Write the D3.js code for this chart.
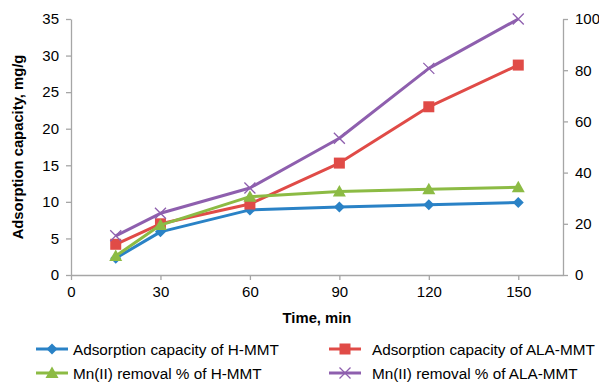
<!DOCTYPE html>
<html>
<head>
<meta charset="utf-8">
<script src="https://cdn.jsdelivr.net/npm/d3@7/dist/d3.min.js"></script>
<style>
  body { margin: 0; background: #fff; }
  svg { font-family: "Liberation Sans", Arial, sans-serif; }
</style>
</head>
<body>
<svg id="chart" width="599" height="382"></svg>
<script>
// Sampling times (min)
const times = [15, 30, 60, 90, 120, 150];
// Adsorption capacity, mg/g (left axis)
const capHMMT = [2.3, 5.9, 8.9, 9.3, 9.6, 9.9];
const capALAMMT = [4.2, 7.0, 9.7, 15.3, 23.0, 28.7];
// Mn(II) removal, % (right axis)
const remHMMT = [7.4, 19.5, 30.6, 32.6, 33.5, 34.3];
const remALAMMT = [15.3, 24.1, 34.0, 53.4, 80.7, 100];

const xTicks = [0, 30, 60, 90, 120, 150];
const yLeftTicks = [0, 5, 10, 15, 20, 25, 30, 35];
const yRightTicks = [0, 20, 40, 60, 80, 100];

const seriesNames = [
  "Adsorption capacity of H-MMT",
  "Adsorption capacity of ALA-MMT",
  "Mn(II) removal % of H-MMT",
  "Mn(II) removal % of ALA-MMT"
];

const margin = { left: 71, right: 36, top: 19, bottom: 107 };
const W = 599, H = 382;
const svg = d3.select("#chart");

const x = d3.scaleLinear().domain([0, 165]).range([margin.left, W - margin.right]);
const yL = d3.scaleLinear().domain([0, 35]).range([H - margin.bottom, margin.top]);
const yR = d3.scaleLinear().domain([0, 100]).range([H - margin.bottom, margin.top]);

const axisColor = "#a6a6a6";
const fontSize = 15;

function styleAxis(g) {
  g.selectAll("path").attr("stroke", axisColor).attr("stroke-width", 1.3);
  g.selectAll("line").attr("stroke", axisColor).attr("stroke-width", 1.3);
  g.selectAll("text").attr("fill", "#000").attr("font-size", fontSize);
}

svg.append("g")
  .attr("transform", `translate(0,${H - margin.bottom})`)
  .call(d3.axisBottom(x).tickValues(xTicks).tickSize(5).tickSizeOuter(0).tickPadding(6))
  .call(styleAxis);

svg.append("g")
  .attr("transform", `translate(${margin.left},0)`)
  .call(d3.axisLeft(yL).tickValues(yLeftTicks).tickSize(5).tickSizeOuter(0).tickPadding(7))
  .call(styleAxis);

svg.append("g")
  .attr("transform", `translate(${W - margin.right},0)`)
  .call(d3.axisRight(yR).tickValues(yRightTicks).tickSize(5).tickSizeOuter(0).tickPadding(7))
  .call(styleAxis);

// Axis titles
svg.append("text")
  .attr("transform", `translate(23,${(margin.top + H - margin.bottom) / 2}) rotate(-90)`)
  .attr("text-anchor", "middle")
  .attr("font-size", 14.8)
  .attr("font-weight", "bold")
  .text("Adsorption capacity, mg/g");

svg.append("text")
  .attr("x", 317)
  .attr("y", 323)
  .attr("text-anchor", "middle")
  .attr("font-size", 14.8)
  .attr("font-weight", "bold")
  .text("Time, min");

const series = [
  { name: seriesNames[0], values: capHMMT, y: yL, color: "#2a82c6", marker: "diamond" },
  { name: seriesNames[1], values: capALAMMT, y: yL, color: "#e04b47", marker: "square" },
  { name: seriesNames[2], values: remHMMT, y: yR, color: "#8cbb44", marker: "triangle" },
  { name: seriesNames[3], values: remALAMMT, y: yR, color: "#8e5fae", marker: "cross" }
];

function drawMarker(g, type, cx, cy, color) {
  if (type === "diamond") {
    g.append("path")
      .attr("d", `M${cx},${cy - 5.5}L${cx + 5.5},${cy}L${cx},${cy + 5.5}L${cx - 5.5},${cy}Z`)
      .attr("fill", color);
  } else if (type === "square") {
    g.append("rect")
      .attr("x", cx - 5.5).attr("y", cy - 5.5)
      .attr("width", 11).attr("height", 11)
      .attr("fill", color);
  } else if (type === "triangle") {
    g.append("path")
      .attr("d", `M${cx},${cy - 6.5}L${cx + 6.5},${cy + 5}L${cx - 6.5},${cy + 5}Z`)
      .attr("fill", color);
  } else if (type === "cross") {
    g.append("path")
      .attr("d", `M${cx - 5.5},${cy - 5.5}L${cx + 5.5},${cy + 5.5}M${cx - 5.5},${cy + 5.5}L${cx + 5.5},${cy - 5.5}`)
      .attr("stroke", color).attr("stroke-width", 1.3).attr("fill", "none");
  }
}

const plot = svg.append("g");
series.forEach(s => {
  const line = d3.line().x((d, i) => x(times[i])).y(d => s.y(d));
  plot.append("path")
    .datum(s.values)
    .attr("d", line)
    .attr("fill", "none")
    .attr("stroke", s.color)
    .attr("stroke-width", 3)
    .attr("stroke-linejoin", "round");
  const mg = plot.append("g");
  s.values.forEach((v, i) => drawMarker(mg, s.marker, x(times[i]), s.y(v), s.color));
});

// Legend: two columns, two rows
const legendPos = [
  { x: 36, y: 349, tx: 73 }, { x: 329, y: 349, tx: 372 },
  { x: 36, y: 373, tx: 73 }, { x: 329, y: 373, tx: 372 }
];
series.forEach((s, i) => {
  const p = legendPos[i];
  const g = svg.append("g");
  g.append("line")
    .attr("x1", p.x).attr("x2", p.x + 32)
    .attr("y1", p.y).attr("y2", p.y)
    .attr("stroke", s.color).attr("stroke-width", 3);
  drawMarker(g, s.marker, p.x + 16, p.y, s.color);
  g.append("text")
    .attr("x", p.tx)
    .attr("y", p.y + 5.5)
    .attr("font-size", 15.3)
    .attr("fill", "#000")
    .text(s.name);
});
</script>
</body>
</html>
